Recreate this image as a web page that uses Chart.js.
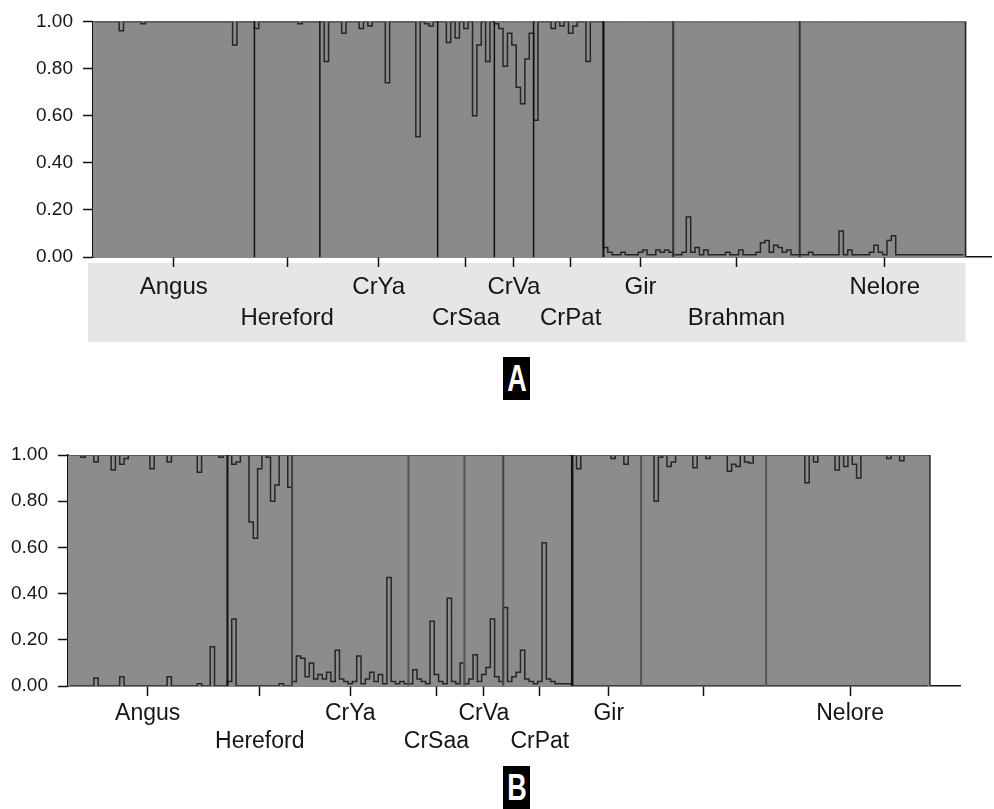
<!DOCTYPE html>
<html><head><meta charset="utf-8">
<script src="https://cdn.jsdelivr.net/npm/chart.js@4.4.1/dist/chart.umd.min.js"></script>
<style>
html,body{margin:0;padding:0;background:#fff;width:994px;height:809px;overflow:hidden;}
#wrapA{position:absolute;left:0;top:0;width:994px;height:350px;}
#wrapB{position:absolute;left:0;top:430px;width:994px;height:330px;}
.tag{position:absolute;left:503px;width:27px;height:43px;background:#000;color:#fff;font:bold 36px "Liberation Sans",Arial,sans-serif;display:flex;align-items:center;justify-content:center;line-height:1;}
.tag span{display:inline-block;transform:scaleX(0.75);}
</style></head><body>
<div id="wrapA"><canvas id="chartA" width="994" height="350"></canvas></div>
<div class="tag" style="top:357px"><span>A</span></div>
<div id="wrapB"><canvas id="chartB" width="994" height="330"></canvas></div>
<div class="tag" style="top:766px"><span>B</span></div>
<script>
// ---------- data ----------
const popNames  = ['Angus','Hereford','CrYa','CrSaa','CrVa','CrPat','Gir','Brahman','Nelore'];
const xLabelsA  = ['Angus','Hereford','CrYa','CrSaa','CrVa','CrPat','Gir','Brahman','Nelore'];
const xLabelsB  = ['Angus','Hereford','CrYa','CrSaa','CrVa','CrPat','Gir','','Nelore'];
const popSizes  = [37,15,27,13,9,16,16,29,38];
const labelRow  = [0,1,0,1,0,1,0,1,0];
const yTickLabels = ['0.00','0.20','0.40','0.60','0.80','1.00'];

// Panel A: membership in the lower cluster, per individual
const A_Angus    = [1,1,1,1,1,1,0.96,1,1,1,1,0.99,1,1,1,1,1,1,1,1,1,1,1,1,1,1,1,1,1,1,1,1,0.90,1,1,1,1];
const A_Hereford = [0.97,1,1,1,1,1,1,1,1,1,0.99,1,1,1,1];
const A_CrYa     = [1,0.83,1,1,1,0.95,1,1,1,0.97,1,0.98,1,1,1,0.74,1,1,1,1,1,1,0.51,1,0.99,0.98,1];
const A_CrSaa    = [1,1,0.91,1,0.93,1,0.97,1,0.60,0.90,1,0.83,1];
const A_CrVa     = [0.99,0.97,0.81,0.95,0.90,0.72,0.65,0.84,0.95];
const A_CrPat    = [0.58,1,1,1,0.97,1,0.98,1,0.95,0.98,1,1,0.83,1,1,1];
const A_Gir      = [0.04,0.02,0.01,0.01,0.02,0.01,0.01,0.01,0.02,0.03,0.01,0.01,0.03,0.02,0.03,0.02];
const A_Brahman  = [0.01,0.01,0.02,0.17,0.02,0.04,0.01,0.03,0.01,0.01,0.01,0.01,0.02,0.01,0.01,0.03,0.01,0.01,0.01,0.02,0.06,0.07,0.02,0.05,0.04,0.02,0.03,0.01,0.01];
const A_Nelore   = [0.01,0.01,0.02,0.01,0.01,0.01,0.01,0.01,0.01,0.11,0.01,0.03,0.01,0.01,0.01,0.01,0.02,0.05,0.02,0.01,0.07,0.09,0.01,0.01,0.01,0.01,0.01,0.01,0.01,0.01,0.01,0.01,0.01,0.01,0.01,0.01,0.01,0.01];

// Panel B: lower boundary (bottom cluster) and upper boundary (top cluster starts)
const BL_Angus    = [0,0,0,0,0,0,0.035,0,0,0,0,0,0.04,0,0,0,0,0,0,0,0,0,0,0.04,0,0,0,0,0,0,0.01,0,0,0.17,0,0,0];
const BU_Angus    = [1,1,1,0.99,1,1,0.97,1,1,1,0.935,1,0.96,0.985,1,1,1,1,1,0.94,1,1,1,0.97,1,1,1,1,1,1,0.925,1,1,1,1,0.99,1];
const BL_Hereford = [0.02,0.29,0,0,0,0,0,0,0,0,0,0,0.01,0,0];
const BU_Hereford = [1,0.96,0.97,1,1,0.71,0.64,0.94,1,0.99,0.80,0.87,1,1,0.86];
const BL_CrYa     = [0.02,0.13,0.12,0.04,0.10,0.03,0.05,0.03,0.06,0.02,0.155,0.03,0.02,0.01,0.02,0.13,0.01,0.03,0.06,0.02,0.05,0.01,0.47,0.02,0.01,0.02,0.01];
const BU_CrYa     = [1,1,1,1,1,1,1,1,1,1,1,1,1,1,1,1,1,1,1,1,1,1,1,1,1,1,1];
const BL_CrSaa    = [0.01,0.07,0.03,0.02,0.01,0.28,0.05,0.02,0.01,0.38,0.02,0.01,0.10];
const BU_CrSaa    = [1,1,1,1,1,1,1,1,1,1,1,1,1];
const BL_CrVa     = [0.01,0.03,0.135,0.02,0.05,0.08,0.29,0.04,0.02];
const BU_CrVa     = [1,1,1,1,1,1,1,1,1];
const BL_CrPat    = [0.34,0.02,0.04,0.06,0.155,0.03,0.02,0.01,0.02,0.62,0.03,0.02,0.01,0.01,0.01,0.01];
const BU_CrPat    = [1,1,1,1,1,1,1,1,1,1,1,1,1,1,1,1];
const BL_Gir      = [0,0,0,0,0,0,0,0,0,0,0,0,0,0,0,0];
const BU_Gir      = [1,0.94,1,1,1,1,1,1,1,0.985,1,1,0.96,1,1,1];
const BL_Brahman  = [0,0,0,0,0,0,0,0,0,0,0,0,0,0,0,0,0,0,0,0,0,0,0,0,0,0,0,0,0];
const BU_Brahman  = [1,1,1,0.80,0.99,1,0.95,0.97,1,1,1,1,0.945,1,1,0.985,1,1,1,1,0.93,0.96,0.95,1,0.97,0.965,1,1,1];
const BL_Nelore   = [0,0,0,0,0,0,0,0,0,0,0,0,0,0,0,0,0,0,0,0,0,0,0,0,0,0,0,0,0,0,0,0,0,0,0,0,0,0];
const BU_Nelore   = [1,1,1,1,1,1,1,1,1,0.88,1,0.97,1,1,1,1,0.935,1,0.95,1,0.96,0.90,1,1,1,1,1,1,0.985,1,1,0.975,1,1,1,1,1,1];

const qA  = [].concat(A_Angus,A_Hereford,A_CrYa,A_CrSaa,A_CrVa,A_CrPat,A_Gir,A_Brahman,A_Nelore);
const lowB = [].concat(BL_Angus,BL_Hereford,BL_CrYa,BL_CrSaa,BL_CrVa,BL_CrPat,BL_Gir,BL_Brahman,BL_Nelore);
const upB  = [].concat(BU_Angus,BU_Hereford,BU_CrYa,BU_CrSaa,BU_CrVa,BU_CrPat,BU_Gir,BU_Brahman,BU_Nelore);

// ---------- helpers ----------
const total = popSizes.reduce((a,b)=>a+b,0);
const starts = []; { let s=0; popSizes.forEach(n=>{starts.push(s); s+=n;}); }
const centers = starts.map((s,k)=>s+Math.floor(popSizes[k]/2));

function segments(bounds){
  const segs=[];
  for(let k=0;k<=bounds.length;k++){
    segs.push(bounds[0].map((_,i)=>{
      const lo = k===0?0:bounds[k-1][i];
      const hi = k===bounds.length?1:bounds[k][i];
      return +(hi-lo).toFixed(4);
    }));
  }
  return segs;
}

function makeChart(id, o){
  const N = total + o.extra;
  const pad = arr => arr.concat(new Array(o.extra).fill(null));
  const labels = Array.from({length:N},(_,i)=>String(i));
  const segs = segments(o.bounds);
  const datasets = segs.map((s,k)=>({
    type:'bar', data:pad(s), backgroundColor:o.barColors[k], borderWidth:0, inflateAmount:0.8,
    barPercentage:1, categoryPercentage:1, stack:'adm', order:2
  }));
  o.bounds.forEach((b,k)=>datasets.push({
    type:'line', data:pad(b), stepped:'middle', borderColor:'#262626', borderWidth:1.5,
    pointRadius:0, fill:false, stack:'line'+k, order:0, spanGaps:false
  }));

  const decor = {
    id:'decor',
    beforeDraw(chart){
      if(!o.band) return;
      const ctx=chart.ctx, xs=chart.scales.x, a=chart.chartArea;
      const xEnd=(xs.getPixelForValue(total-1)+xs.getPixelForValue(total))/2;
      ctx.save(); ctx.fillStyle='#e6e6e6';
      ctx.fillRect(a.left-5, a.bottom+6, xEnd-(a.left-5), 79);
      ctx.restore();
    },
    afterDatasetsDraw(chart){
      const ctx=chart.ctx, xs=chart.scales.x, ys=chart.scales.y;
      const top=ys.getPixelForValue(1), bot=ys.getPixelForValue(0);
      const edgeX = b => (xs.getPixelForValue(b-1)+xs.getPixelForValue(b))/2;
      ctx.save();
      ctx.strokeStyle='#555'; ctx.lineWidth=1;
      ctx.beginPath(); ctx.moveTo(chart.chartArea.left, top+0.5); ctx.lineTo(edgeX(total), top+0.5); ctx.stroke();
      starts.slice(1).concat([total]).forEach((b,k)=>{
        const st=o.sepStyles[k];
        ctx.strokeStyle=st[0]; ctx.lineWidth=st[1];
        const x=edgeX(b);
        ctx.beginPath(); ctx.moveTo(x, top); ctx.lineTo(x, bot); ctx.stroke();
      });
      ctx.restore();
    }
  };

  return new Chart(document.getElementById(id), {
    data:{labels, datasets},
    options:{
      responsive:false, animation:false, events:[],
      layout:{padding:{top:o.padTop, right:o.padRight, left:0, bottom:0}},
      plugins:{legend:{display:false}, tooltip:{enabled:false}},
      scales:{
        x:{
          type:'category', stacked:true, offset:true, z:1,
          grid:{display:true, drawOnChartArea:false, offset:false, tickLength:10, tickWidth:1.5,
                tickColor:ctx=>centers.includes(ctx.index)?'#111':'rgba(0,0,0,0)'},
          border:{display:true, color:'#111', width:1.5},
          ticks:{autoSkip:false, maxRotation:0, minRotation:0, padding:o.xPad, color:'#161616',
                 font:{family:'"Liberation Sans", Arial, sans-serif', size:o.xFont, lineHeight:o.xLH},
                 callback:(v,i)=>{ const k=centers.indexOf(i); if(k<0) return '';
                   const name=o.xLabels[k]; return labelRow[k]?['',name]:name; }},
          afterFit:s=>{ s.height=o.xHeight; }
        },
        y:{
          stacked:true, min:0, max:1, z:1,
          grid:{display:true, drawOnChartArea:false, tickLength:10, tickWidth:1.5, tickColor:'#111'},
          border:{display:true, color:'#111', width:1.5},
          ticks:{stepSize:0.2, padding:10, color:'#161616',
                 font:{family:'"Liberation Sans", Arial, sans-serif', size:19},
                 callback:(v,i)=>yTickLabels[i]},
          afterFit:s=>{ s.width=o.yWidth; }
        }
      }
    },
    plugins:[decor]
  });
}

makeChart('chartA', {
  bounds:[qA], barColors:['#8a8a8a','#8a8a8a'], extra:6,
  padTop:20, padRight:1, yWidth:93, xHeight:93, xPad:4.5, xFont:24, xLH:1.29,
  xLabels:xLabelsA, band:true,
  sepStyles:[['#111',1.5],['#111',1.5],['#111',1.5],['#111',1.5],['#111',1.5],['#111',2],['#333',2],['#333',2],['#222',1.5]]
});
makeChart('chartB', {
  bounds:[lowB, upB], barColors:['#8c8c8c','#8c8c8c','#8c8c8c'], extra:7,
  padTop:25, padRight:34, yWidth:68, xHeight:74, xPad:3, xFont:23, xLH:1.24,
  xLabels:xLabelsB, band:false,
  sepStyles:[['#111',2],['#444',2],['#555',2],['#555',2],['#444',2],['#111',2.5],['#555',2],['#555',2],['#333',1.5]]
});
</script>
</body></html>
